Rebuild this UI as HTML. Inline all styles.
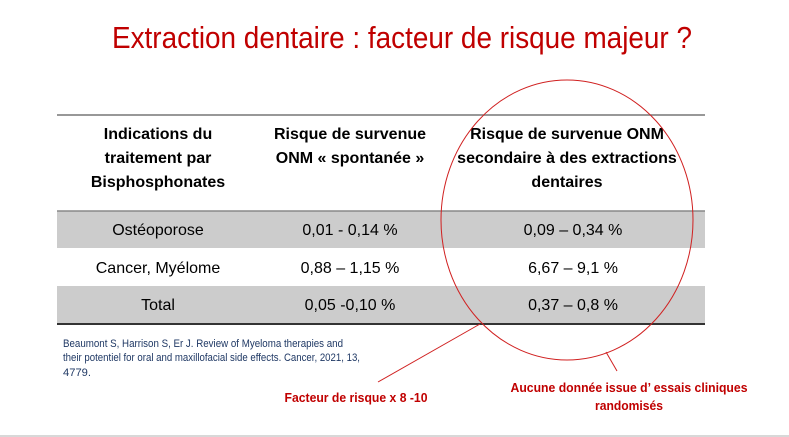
<!DOCTYPE html>
<html><head><meta charset="utf-8"><style>
body{margin:0;background:#fff}
svg{display:block;font-family:"Liberation Sans",Arial,sans-serif}
</style></head><body>
<svg width="789" height="437" viewBox="0 0 789 437">
<text x="402" y="48" text-anchor="middle" font-size="31" fill="#c00000" textLength="580" lengthAdjust="spacingAndGlyphs">Extraction dentaire : facteur de risque majeur  ?</text>
<g>
<rect x="57" y="211" width="648" height="37" fill="#cccccc"/>
<rect x="57" y="286" width="648" height="38" fill="#cccccc"/>
<line x1="57" y1="115" x2="705" y2="115" stroke="#777" stroke-width="1.5"/>
<line x1="57" y1="211" x2="705" y2="211" stroke="#888" stroke-width="1.5"/>
<line x1="57" y1="324" x2="705" y2="324" stroke="#333" stroke-width="2"/>
<g font-weight="bold" font-size="16" fill="#000" text-anchor="middle">
<text x="158" y="139">Indications du</text><text x="158" y="163">traitement par</text><text x="158" y="187">Bisphosphonates</text>
<text x="350" y="139">Risque de survenue</text><text x="350" y="163">ONM « spontanée »</text>
<text x="567" y="139">Risque de survenue ONM</text><text x="567" y="163">secondaire à des extractions</text><text x="567" y="187">dentaires</text>
</g>
<g font-size="16" fill="#000" text-anchor="middle">
<text x="158" y="235">Ostéoporose</text><text x="350" y="235">0,01 -  0,14 %</text><text x="573" y="235">0,09 – 0,34 %</text>
<text x="158" y="273">Cancer, Myélome</text><text x="350" y="273">0,88 – 1,15 %</text><text x="573" y="273">6,67 – 9,1 %</text>
<text x="158" y="310">Total</text><text x="350" y="310">0,05 -0,10 %</text><text x="573" y="310">0,37 – 0,8 %</text>
</g>
</g>
<ellipse cx="567" cy="220" rx="126" ry="140" fill="none" stroke="#d02020" stroke-width="1"/>
<line x1="480" y1="324" x2="378" y2="382" stroke="#d02020" stroke-width="1"/>
<line x1="606" y1="352" x2="617" y2="371" stroke="#d02020" stroke-width="1"/>
<g font-size="11" fill="#1f3864">
<text x="63" y="347" textLength="280" lengthAdjust="spacingAndGlyphs">Beaumont S, Harrison S,  Er J. Review of Myeloma therapies and</text>
<text x="63" y="361" textLength="297" lengthAdjust="spacingAndGlyphs">their potentiel for oral and maxillofacial side effects. Cancer, 2021, 13,</text>
<text x="63" y="376" textLength="28" lengthAdjust="spacingAndGlyphs">4779.</text>
</g>
<text x="356" y="402" text-anchor="middle" font-size="13" font-weight="bold" fill="#c00000" textLength="143" lengthAdjust="spacingAndGlyphs">Facteur de risque x 8 -10</text>
<g font-size="13" font-weight="bold" fill="#c00000" text-anchor="middle">
<text x="629" y="392" textLength="237" lengthAdjust="spacingAndGlyphs">Aucune donnée issue d’ essais cliniques</text>
<text x="629" y="410" textLength="68" lengthAdjust="spacingAndGlyphs">randomisés</text>
</g>
<line x1="0" y1="436" x2="789" y2="436" stroke="#d8d8d8" stroke-width="2"/>
</svg>
</body></html>
